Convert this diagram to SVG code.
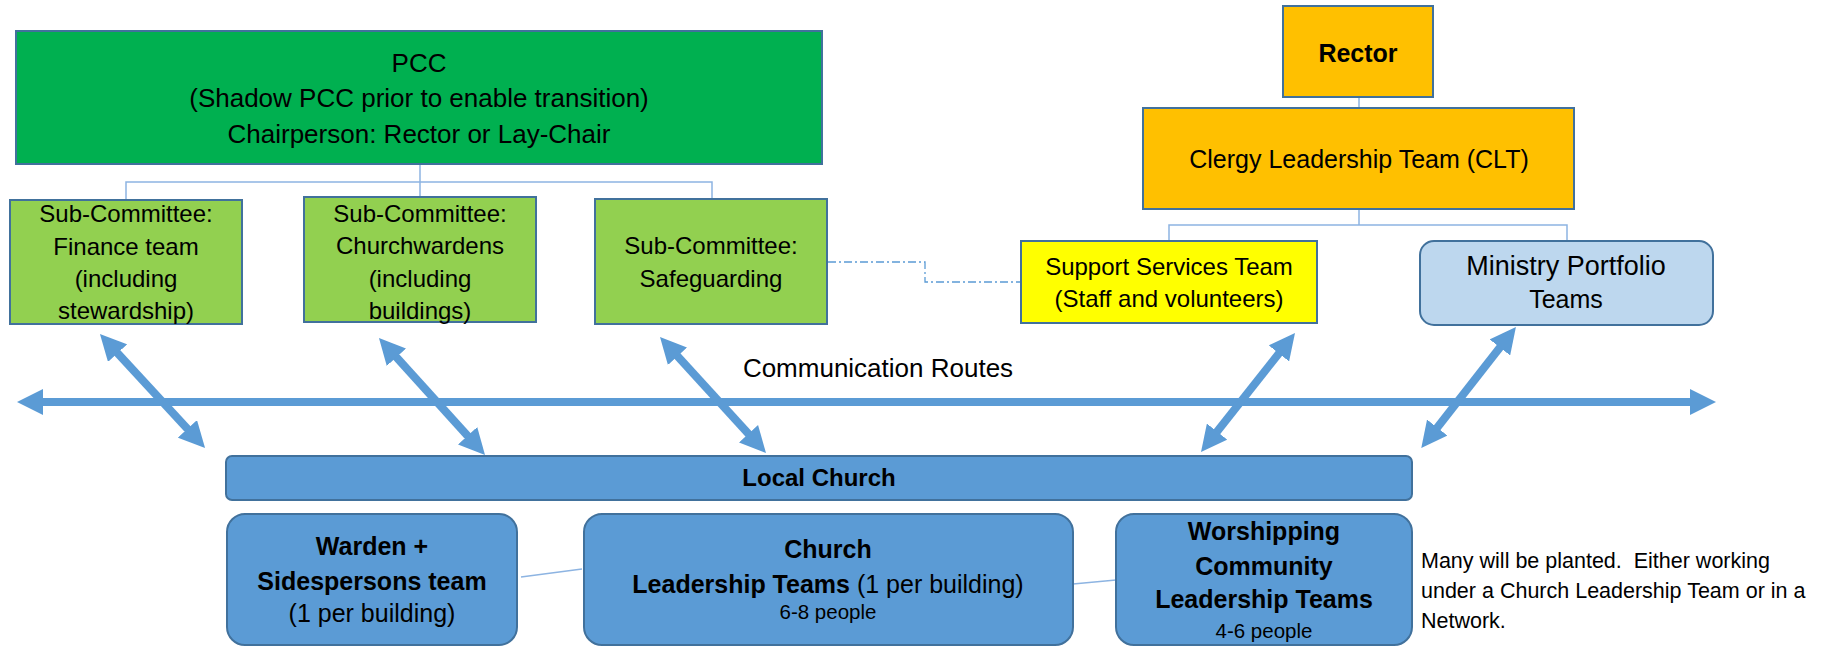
<svg xmlns="http://www.w3.org/2000/svg" width="1845" height="647" viewBox="0 0 1845 647">
<style>
text{font-family:"Liberation Sans",Arial,sans-serif;fill:#000;text-anchor:middle}
.t26{font-size:26px}
.t24{font-size:24px}
.t25{font-size:25px}
.t27{font-size:27px}
.b{font-weight:bold}
.sm{font-size:20.5px}
.note{font-size:21.5px;text-anchor:start;white-space:pre}
.box{stroke:#41719C;stroke-width:2}
.conn{fill:none;stroke:#8DB4E2;stroke-width:1.5}
.arrow{fill:none;stroke:#5B9BD5;stroke-width:8;marker-start:url(#ah);marker-end:url(#ah)}
</style>
<defs>
<marker id="ah" markerUnits="userSpaceOnUse" markerWidth="26" markerHeight="26" refX="6" refY="13" orient="auto-start-reverse" viewBox="0 0 26 26">
<path d="M0,0 L26,13 L0,26 z" fill="#5B9BD5"/>
</marker>
</defs>
<rect width="1845" height="647" fill="#fff"/>

<g id="connectors">
<path class="conn" d="M420,165 V182 M126,199 V182 H712 V199 M420,182 V197"/>
<path class="conn" d="M1359,97 V108 M1359,209 V225 M1169,241 V225 H1567 V241"/>
<path fill="none" stroke="#5B9BD5" stroke-width="1.3" stroke-dasharray="8 3 2 3" d="M828,262 H925 V282 H1020"/>
<path class="conn" d="M521,577 L582,569 M1073,584 L1116,580"/>
<line class="arrow" x1="37" y1="402" x2="1696" y2="402"/>
<line class="arrow" x1="113.5" y1="348.7" x2="191.5" y2="433.3"/>
<line class="arrow" x1="392.4" y1="352.8" x2="471.6" y2="440.2"/>
<line class="arrow" x1="673.5" y1="351.8" x2="752.5" y2="438.2"/>
<line class="arrow" x1="1282.6" y1="348.7" x2="1213.4" y2="436.3"/>
<line class="arrow" x1="1503.6" y1="342.7" x2="1433.6" y2="432.3"/>
</g>

<g id="pcc">
<rect class="box" x="16" y="31" width="806" height="133" fill="#00B050"/>
<text class="t26" x="419" y="72">PCC</text>
<text class="t26" x="419" y="107">(Shadow PCC prior to enable transition)</text>
<text class="t26" x="419" y="143">Chairperson: Rector or Lay-Chair</text>
</g>

<g id="finance">
<rect class="box" x="10" y="200" width="232" height="124" fill="#92D050"/>
<text class="t24" x="126" y="222">Sub-Committee:</text>
<text class="t24" x="126" y="255">Finance team</text>
<text class="t24" x="126" y="287">(including</text>
<text class="t24" x="126" y="319">stewardship)</text>
</g>

<g id="churchwardens">
<rect class="box" x="304" y="197" width="232" height="125" fill="#92D050"/>
<text class="t24" x="420" y="222">Sub-Committee:</text>
<text class="t24" x="420" y="254">Churchwardens</text>
<text class="t24" x="420" y="287">(including</text>
<text class="t24" x="420" y="319">buildings)</text>
</g>

<g id="safeguarding">
<rect class="box" x="595" y="199" width="232" height="125" fill="#92D050"/>
<text class="t24" x="711" y="254">Sub-Committee:</text>
<text class="t24" x="711" y="287">Safeguarding</text>
</g>

<g id="rector">
<rect class="box" x="1283" y="6" width="150" height="91" fill="#FFC000"/>
<text class="t25 b" x="1358" y="62">Rector</text>
</g>

<g id="clt">
<rect class="box" x="1143" y="108" width="431" height="101" fill="#FFC000"/>
<text class="t25" x="1359" y="168">Clergy Leadership Team (CLT)</text>
</g>

<g id="support">
<rect class="box" x="1021" y="241" width="296" height="82" fill="#FFFF00"/>
<text class="t24" x="1169" y="275">Support Services Team</text>
<text class="t24" x="1169" y="307">(Staff and volunteers)</text>
</g>

<g id="ministry">
<rect class="box" x="1420" y="241" width="293" height="84" rx="14" fill="#BDD7EE"/>
<text class="t27" x="1566" y="275">Ministry Portfolio</text>
<text class="t25" x="1566" y="308">Teams</text>
</g>

<text class="t26" x="878" y="377">Communication Routes</text>

<g id="local-church">
<rect class="box" x="226" y="456" width="1186" height="44" rx="6" fill="#5B9BD5"/>
<text class="t24 b" x="819" y="486">Local Church</text>
</g>

<g id="warden">
<rect class="box" x="227" y="514" width="290" height="131" rx="18" fill="#5B9BD5"/>
<text class="t25 b" x="372" y="555">Warden +</text>
<text class="t25 b" x="372" y="590">Sidespersons team</text>
<text class="t25" x="372" y="622">(1 per building)</text>
</g>

<g id="church-leadership">
<rect class="box" x="584" y="514" width="489" height="131" rx="18" fill="#5B9BD5"/>
<text class="t25 b" x="828" y="558">Church</text>
<text class="t25" x="828" y="593"><tspan class="b">Leadership Teams</tspan> (1 per building)</text>
<text class="sm" x="828" y="619">6-8 people</text>
</g>

<g id="worshipping">
<rect class="box" x="1116" y="514" width="296" height="131" rx="18" fill="#5B9BD5"/>
<text class="t25 b" x="1264" y="540">Worshipping</text>
<text class="t25 b" x="1264" y="575">Community</text>
<text class="t25 b" x="1264" y="608">Leadership Teams</text>
<text class="sm" x="1264" y="638">4-6 people</text>
</g>

<g id="note">
<text class="note" x="1421" y="568" xml:space="preserve">Many will be planted.  Either working</text>
<text class="note" x="1421" y="598">under a Church Leadership Team or in a</text>
<text class="note" x="1421" y="628">Network.</text>
</g>
</svg>
